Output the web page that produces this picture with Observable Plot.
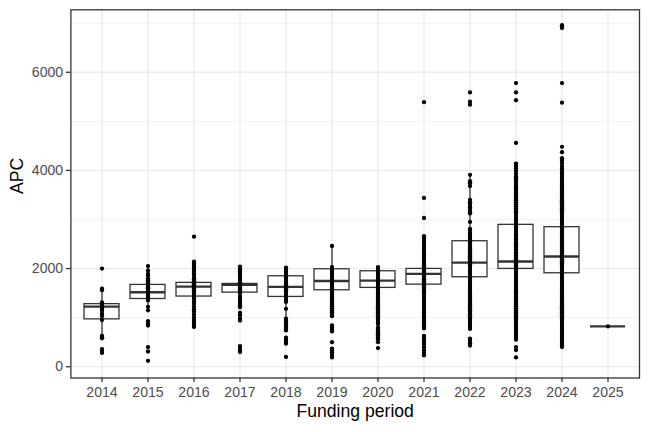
<!DOCTYPE html>
<html>
<head>
<meta charset="utf-8">
<script src="https://cdn.jsdelivr.net/npm/d3@7"></script>
<script src="https://cdn.jsdelivr.net/npm/@observablehq/plot@0.6"></script>
<style>
  html, body { margin: 0; padding: 0; background: #fff; }
  svg { display: block; }
</style>
</head>
<body>
<div id="chart"></div>
<script>
const years = ["2014","2015","2016","2017","2018","2019","2020","2021","2022","2023","2024","2025"];

// box statistics
const q1         = [965, 1380, 1430, 1510, 1422, 1558, 1606, 1673, 1823, 1993, 1904, 823];
const median     = [1225, 1517, 1633, 1667, 1626, 1748, 1755, 1891, 2122, 2143, 2245, 823];
const q3         = [1275, 1667, 1708, 1687, 1843, 1986, 1945, 1993, 2557, 2891, 2843, 823];
const whiskerLow = [600, 1150, 1120, 1250, 820, 1030, 1110, 1220, 770, 660, 510, 823];
const whiskerHigh= [1580, 2050, 2140, 1990, 2020, 2460, 2030, 2460, 3910, 4140, 4245, 823];

// individual APC observations (estimated)
const apc2014 = [2000,1590,1560,1310,1280,1260,1240,1210,1180,1140,1080,1030,950,630,600,580,360,320,280];
const apc2015 = [2050,1960,1890,1860,1800,1760,1720,1680,1650,1620,1600,1570,1540,1520,1500,1480,1450,1420,1390,1350,1220,1150,930,880,840,400,310,120];
const apc2016 = [2650,2140,2100,2060,2020,1990,1950,1900,1870,1820,1780,1740,1700,1680,1650,1630,1600,1570,1540,1500,1460,1420,1380,1330,1280,1220,1170,1120,1060,1000,950,900,850,810];
const apc2017 = [2040,2010,1990,1960,1930,1900,1870,1830,1790,1750,1720,1690,1670,1650,1620,1590,1560,1530,1500,1440,1400,1350,1300,1250,1210,1100,1050,980,940,420,380,340,300];
const apc2018 = [2020,1990,1950,1910,1870,1830,1790,1750,1710,1680,1640,1600,1560,1520,1480,1440,1400,1360,1320,1180,980,940,900,860,820,780,740,590,550,510,470,200];
const apc2019 = [2460,2030,1990,1950,1910,1870,1830,1790,1750,1710,1670,1630,1590,1550,1510,1470,1430,1390,1350,1310,1270,1230,1190,1150,1110,1070,1030,840,800,760,720,500,370,330,290,240,190];
const apc2020 = [2030,1990,1950,1910,1870,1830,1790,1750,1710,1670,1630,1590,1550,1510,1470,1430,1390,1350,1310,1270,1230,1190,1150,1110,1070,1030,990,950,910,870,800,760,720,680,640,600,560,500,380];
const apc2021 = [5390,3440,3030,2660,2610,2560,2510,2460,2420,2380,2340,2300,2260,2220,2180,2140,2100,2060,2020,1980,1940,1900,1860,1820,1780,1740,1700,1660,1620,1580,1540,1500,1460,1420,1380,1340,1300,1260,1220,1180,1140,1100,1060,1020,980,940,900,860,820,780,630,590,540,490,440,390,330,280,230];
const apc2022 = [5590,5400,5340,3910,3780,3740,3680,3400,3350,3300,3250,3200,3150,3120,2950,2810,2770,2730,2690,2650,2610,2570,2530,2490,2450,2410,2370,2330,2290,2250,2210,2170,2130,2090,2050,2010,1970,1930,1890,1850,1810,1770,1730,1690,1650,1610,1570,1530,1490,1450,1410,1370,1330,1290,1250,1210,1170,1130,1090,1050,1010,970,930,890,850,810,770,570,530,480,430];
const apc2023 = [5780,5590,5430,4560,4140,4090,4040,3990,3930,3880,3840,3790,3750,3710,3670,3630,3590,3550,3510,3470,3430,3390,3350,3310,3270,3230,3190,3150,3110,3070,3030,2990,2950,2910,2870,2830,2790,2750,2710,2670,2630,2590,2550,2510,2470,2430,2390,2350,2310,2270,2230,2190,2150,2110,2070,2030,1990,1950,1910,1870,1830,1790,1750,1710,1670,1630,1590,1550,1510,1470,1430,1390,1350,1310,1270,1230,1190,1150,1110,1070,1030,990,950,910,870,830,790,750,710,670,630,590,550,400,340,190];
const apc2024 = [6960,6930,6900,5780,5380,4480,4370,4250,4200,4150,4090,4040,3990,3950,3910,3870,3830,3790,3750,3710,3670,3630,3590,3550,3510,3470,3430,3390,3350,3310,3270,3230,3190,3150,3110,3070,3030,2990,2950,2910,2870,2830,2790,2750,2710,2670,2630,2590,2550,2510,2470,2430,2390,2350,2310,2270,2230,2190,2150,2110,2070,2030,1990,1950,1910,1870,1830,1790,1750,1710,1670,1630,1590,1550,1510,1470,1430,1390,1350,1310,1270,1230,1190,1150,1110,1070,1030,990,950,910,870,830,790,750,710,670,630,590,550,510,470,430,400];
const apc2025 = [823];

const yTicks = [0, 2000, 4000, 6000];
const yMinor = [1000, 3000, 5000, 7000];

const apcByYear = [apc2014, apc2015, apc2016, apc2017, apc2018, apc2019, apc2020, apc2021, apc2022, apc2023, apc2024, apc2025];
const points = years.flatMap((y, i) => apcByYear[i].map(v => ({year: y, apc: v})));
const stats = years.map((y, i) => ({year: y, q1: q1[i], med: median[i], q3: q3[i], lo: whiskerLow[i], hi: whiskerHigh[i]}));

const dark = "#333333";
const grid = "#ebebeb";

const chart = Plot.plot({
  width: 648,
  height: 432,
  marginLeft: 70.4,
  marginRight: 9,
  marginTop: 9.3,
  marginBottom: 54.5,
  style: {fontFamily: "'Liberation Sans', Arial, Helvetica, sans-serif", background: "#fff"},
  x: {type: "band", domain: years, paddingInner: 0.25, paddingOuter: 0.225, align: 0.5, label: null},
  y: {domain: [-230, 7273], label: null},
  marks: [
    Plot.gridY(yMinor, {stroke: grid, strokeOpacity: 1, strokeWidth: 0.7}),
    Plot.gridY(yTicks, {stroke: grid, strokeOpacity: 1, strokeWidth: 1.3}),
    Plot.ruleX(years, {x: d => d, stroke: grid, strokeWidth: 1.3}),
    Plot.ruleX(stats, {x: "year", y1: "lo", y2: "hi", stroke: dark, strokeWidth: 1.3}),
    Plot.barY(stats, {x: "year", y1: "q1", y2: "q3", fill: "white", stroke: dark, strokeWidth: 1.3}),
    Plot.tickY(stats, {x: "year", y: "med", stroke: dark, strokeWidth: 2.4}),
    Plot.dot(points, {x: "year", y: "apc", r: 2.15, fill: "black", stroke: "none"}),
    Plot.frame({stroke: dark, strokeWidth: 1.3}),
    Plot.axisY(yTicks, {fill: "none", stroke: dark, strokeWidth: 1.3, tickSize: 4.5, label: null}),
    Plot.axisY(yTicks, {tickSize: 0, tickPadding: 7.7, fill: "#4d4d4d", fontSize: 14.1, tickFormat: d3.format("d"), label: null}),
    Plot.axisX({fill: "none", stroke: dark, strokeWidth: 1.3, tickSize: 4.5, label: null}),
    Plot.axisX({tickSize: 0, tickPadding: 8.5, fill: "#4d4d4d", fontSize: 14.1, label: null}),
    Plot.text(["APC"], {text: d => d, frameAnchor: "left", dx: -53.4, rotate: -90, fontSize: 17.6, fill: "black"}),
    Plot.text(["Funding period"], {text: d => d, frameAnchor: "bottom", dy: 38.9, fontSize: 17.6, fill: "black"})
  ]
});
document.getElementById("chart").appendChild(chart);
</script>
</body>
</html>
